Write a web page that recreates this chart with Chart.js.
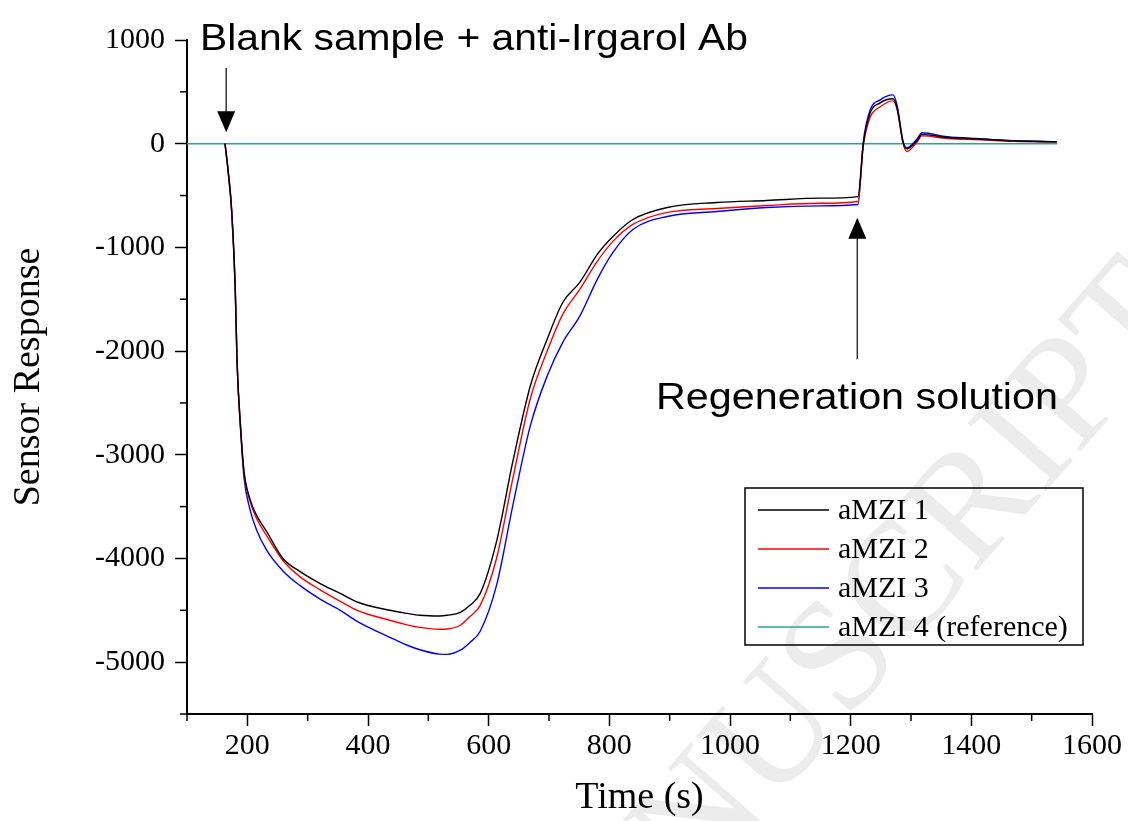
<!DOCTYPE html>
<html>
<head>
<meta charset="utf-8">
<script src="https://cdn.jsdelivr.net/npm/chart.js@4.4.1/dist/chart.umd.min.js"></script>
<style>
  html, body { margin: 0; padding: 0; background: #fff; }
  #wrap { width: 1128px; height: 821px; }
</style>
</head>
<body>
<div id="wrap"><canvas id="chart" width="1128" height="821"></canvas></div>
<script>
// time points (s) shared by the three sensing channels
const times = [163, 168, 174, 180, 183, 189, 194.5, 204, 215, 232, 259, 287, 320, 354, 382, 436, 465, 486, 519, 531, 553, 569, 586, 613, 640, 669, 697, 723, 751, 780, 806, 839, 896, 978, 1061, 1150, 1212, 1221, 1232, 1249, 1270, 1277, 1287, 1293, 1310, 1318, 1360, 1414, 1469, 1542];

const amzi1 = [0, -250, -635, -1404, -2106, -2750, -3163, -3420, -3580, -3740, -4000, -4125, -4240, -4337, -4420, -4500, -4530, -4548, -4555, -4548, -4520, -4452, -4337, -3837, -3067, -2337, -1885, -1529, -1337, -1067, -894, -731, -615, -567, -548, -525, -510, 0, 290, 394, 433, 340, 10, -50, 30, 90, 60, 45, 28, 18];
const amzi2 = [0, -250, -635, -1404, -2106, -2750, -3170, -3440, -3610, -3780, -4020, -4175, -4300, -4413, -4500, -4596, -4640, -4665, -4683, -4680, -4644, -4560, -4452, -4000, -3230, -2460, -2000, -1644, -1404, -1135, -942, -779, -663, -625, -596, -575, -558, -20, 250, 356, 413, 330, 0, -75, 15, 75, 50, 38, 22, 15];
const amzi3 = [0, -260, -660, -1420, -2120, -2780, -3220, -3520, -3720, -3920, -4120, -4260, -4390, -4500, -4606, -4760, -4837, -4880, -4923, -4925, -4885, -4810, -4702, -4260, -3490, -2721, -2240, -1913, -1663, -1308, -1048, -827, -702, -654, -615, -600, -587, 20, 320, 423, 471, 370, 20, -40, 45, 106, 67, 48, 29, 20];

// reference channel stays flat
const refTimes = [100, 1542];
const amzi4 = [0, 0];

const seriesNames = ['aMZI 1', 'aMZI 2', 'aMZI 3', 'aMZI 4 (reference)'];
const seriesColors = ['#000000', '#ff0000', '#0000ff', '#26a69a'];

const xMajor = [200, 400, 600, 800, 1000, 1200, 1400, 1600];
const yMajor = [1000, 0, -1000, -2000, -3000, -4000, -5000];

function pts(xs, ys) { return xs.map((x, i) => ({ x: x, y: ys[i] })); }

const serif = '"Liberation Serif", "Times New Roman", serif';
const sans = '"Liberation Sans", Arial, sans-serif';

// stretch a sans label to the width it has in the figure
function fitText(c, txt, x, y, w) {
  const nat = c.measureText(txt).width;
  c.save();
  c.translate(x, y);
  c.scale(w / nat, 1);
  c.fillText(txt, 0, 0);
  c.restore();
}

// minor ticks, arrows, notes, legend box, watermark
const extras = {
  id: 'extras',
  beforeDraw(chart) {
    const c = chart.ctx;
    c.save();
    c.fillStyle = '#fff';
    c.fillRect(0, 0, chart.width, chart.height);
    // faint watermark
    c.translate(832, 674);
    c.rotate(-49 * Math.PI / 180);
    c.font = '158px ' + serif;
    c.fillStyle = '#ececec';
    c.textAlign = 'center';
    c.textBaseline = 'middle';
    c.fillText('MANUSCRIPT', 0, 0);
    c.restore();
  },
  afterDraw(chart) {
    const c = chart.ctx;
    const xs = chart.scales.x, ys = chart.scales.y;
    const a = chart.chartArea;
    c.save();
    c.strokeStyle = '#000';
    c.lineWidth = 1.5;
    // minor ticks
    for (let v = 100; v <= 1500; v += 200) {
      const px = xs.getPixelForValue(v);
      c.beginPath(); c.moveTo(px, a.bottom); c.lineTo(px, a.bottom + 7); c.stroke();
    }
    for (let v = 500; v >= -5500; v -= 1000) {
      const py = ys.getPixelForValue(v);
      c.beginPath(); c.moveTo(a.left, py); c.lineTo(a.left - 7, py); c.stroke();
    }

    // arrows
    function arrow(x, y0, y1) {
      const dir = y1 > y0 ? 1 : -1;
      c.strokeStyle = '#333';
      c.lineWidth = 1.5;
      c.beginPath(); c.moveTo(x, y0); c.lineTo(x, y1 - dir * 18); c.stroke();
      c.fillStyle = '#000';
      c.beginPath();
      c.moveTo(x, y1);
      c.lineTo(x - 9, y1 - dir * 21);
      c.lineTo(x + 9, y1 - dir * 21);
      c.closePath(); c.fill();
    }
    const ax1 = xs.getPixelForValue(165);
    arrow(ax1, ys.getPixelForValue(730), ys.getPixelForValue(110));
    const ax2 = xs.getPixelForValue(1211);
    arrow(ax2, ys.getPixelForValue(-2080), ys.getPixelForValue(-715));

    c.fillStyle = '#000';
    c.font = '36px ' + sans;
    c.textAlign = 'left';
    c.textBaseline = 'alphabetic';
    fitText(c, 'Blank sample + anti-Irgarol Ab', 200, 50, 548);
    fitText(c, 'Regeneration solution', 656, 409, 402);

    // legend box (transparent, watermark shows through)
    const lx = 745, ly = 488, lw = 338, lh = 157;
    c.strokeStyle = '#000';
    c.lineWidth = 1.5;
    c.strokeRect(lx, ly, lw, lh);
    c.font = '30px ' + serif;
    c.textBaseline = 'middle';
    chart.data.datasets.forEach((ds, i) => {
      const yy = ly + 22 + i * 39;
      c.strokeStyle = ds.borderColor;
      c.lineWidth = 1.5;
      c.beginPath(); c.moveTo(lx + 13, yy); c.lineTo(lx + 84, yy); c.stroke();
      c.fillStyle = '#000';
      c.fillText(ds.label, lx + 93, yy + 1);
    });
    c.restore();
  }
};

const datasets = [
  { label: seriesNames[0], data: pts(times, amzi1), borderColor: seriesColors[0] },
  { label: seriesNames[1], data: pts(times, amzi2), borderColor: seriesColors[1] },
  { label: seriesNames[2], data: pts(times, amzi3), borderColor: seriesColors[2] },
  { label: seriesNames[3], data: pts(refTimes, amzi4), borderColor: seriesColors[3] }
].map(d => Object.assign(d, {
  borderWidth: 1.4, pointRadius: 0, fill: false, cubicInterpolationMode: 'monotone'
}));

chart = new Chart(document.getElementById('chart').getContext('2d'), {
  type: 'line',
  data: { datasets: datasets },
  options: {
    responsive: false,
    animation: false,
    layout: { padding: { top: 40, right: 36, left: 0, bottom: 0 } },
    plugins: { legend: { display: false }, tooltip: { enabled: false } },
    scales: {
      x: {
        type: 'linear', min: 100, max: 1600,
        afterBuildTicks: s => { s.ticks = xMajor.map(v => ({ value: v })); },
        afterFit: s => { s.height = 107; },
        border: { display: true, color: '#000', width: 2 },
        grid: { drawOnChartArea: false, drawTicks: true, tickLength: 12, tickColor: '#000', tickWidth: 1.5 },
        ticks: { color: '#000', font: { family: serif, size: 30 }, padding: 2, maxRotation: 0, callback: v => String(v) },
        title: { display: true, text: 'Time (s)', color: '#000', font: { family: serif, size: 38 }, padding: { top: 4, bottom: 0 } }
      },
      y: {
        type: 'linear', min: -5500, max: 1000,
        afterBuildTicks: s => { s.ticks = yMajor.map(v => ({ value: v })); },
        afterFit: s => { s.width = 187; },
        border: { display: true, color: '#000', width: 2 },
        grid: { drawOnChartArea: false, drawTicks: true, tickLength: 12, tickColor: '#000', tickWidth: 1.5 },
        ticks: { color: '#000', font: { family: serif, size: 30 }, padding: 10, callback: v => String(v) },
        title: { display: true, text: 'Sensor Response', color: '#000', font: { family: serif, size: 38 }, padding: { top: 6, bottom: 4 } }
      }
    }
  },
  plugins: [extras]
});
</script>
</body>
</html>
